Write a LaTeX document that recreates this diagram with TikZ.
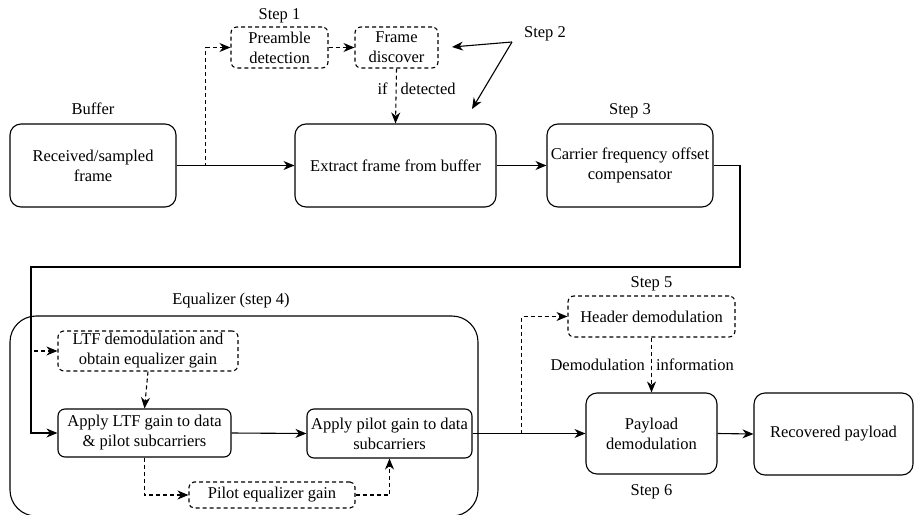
\documentclass[tikz,border=0pt]{standalone}
\usepackage{fontspec}
\setmainfont{Liberation Serif}
\newfontfamily\diagfont{Liberation Serif}
\usetikzlibrary{positioning,arrows.meta}

\begin{document}
\begin{tikzpicture}[x=1pt,y=-1pt,line width=1.1pt,
    font=\diagfont\fontsize{16.5}{20}\selectfont,
    blk/.style={draw,rounded corners=11pt,align=center,inner sep=0pt},
    dblk/.style={blk,rounded corners=6pt,dash pattern=on 4pt off 3pt},
    lbl/.style={inner sep=0pt},
    arr/.style={-{Stealth[length=11pt,width=9pt,inset=3.5pt]}},
    darr/.style={arr,dash pattern=on 4pt off 3pt}]
    \useasboundingbox (0,0) rectangle (915,514);

    % equalizer frame
    \node[draw,rounded corners=26pt,minimum width=468,minimum height=200] (eqz) at (244,416) {};
    \node[lbl] (eqzlbl) at (231,301) {Equalizer (step 4)};

    \node[blk,minimum width=166,minimum height=83] (buf) at (93,165.5) {Received/sampled\\frame};
    \node[blk,minimum width=201,minimum height=83] (ext) at (395.5,165.5) {Extract frame from buffer};
    \node[blk,minimum width=166,minimum height=83] (cfo) at (630,165.5) {Carrier frequency offset\\compensator};
    \node[dblk,minimum width=97,minimum height=41] (pre) at (279.5,47.5) {Preamble\\detection};
    \node[dblk,minimum width=83,minimum height=41] (frm) at (396.5,47.5) {Frame\\discover};

    \node[dblk,minimum width=180,minimum height=40] (ltf) at (148,351) {LTF demodulation and\\obtain equalizer gain};
    \node[blk,rounded corners=7pt,minimum width=173,minimum height=48] (alt) at (144.5,433) {Apply LTF gain to data\\\& pilot subcarriers};
    \node[blk,rounded corners=7pt,minimum width=165,minimum height=49] (apg) at (389.5,433.5) {Apply pilot gain to data\\subcarriers};
    \node[dblk,rounded corners=5pt,minimum width=166,minimum height=26] (peq) at (272,495) {Pilot equalizer gain};

    \node[dblk,minimum width=167,minimum height=41] (hdr) at (651.5,316.5) {Header demodulation};
    \node[blk,minimum width=131,minimum height=81] (pay) at (651.5,433.5) {Payload\\demodulation};
    \node[blk,minimum width=159,minimum height=82] (rec) at (833.5,434) {Recovered payload};

    % step labels
    \node[lbl,above=8.4pt of buf] (buflbl) {Buffer};
    \node[lbl,above=2.8pt of pre] (s1lbl) {Step 1};
    \node[lbl,above=4.8pt of cfo] (s3lbl) {Step 3};
    \node[lbl,above=3.8pt of hdr] (s5lbl) {Step 5};
    \node[lbl,below=9.4pt of pay] (s6lbl) {Step 6};
    \node[lbl] (s2lbl) at (545,34) {Step 2};
    \coordinate (s2) at (512,42);
    \coordinate (s2a) at (452,47);
    \coordinate (s2b) at (472,109);
    \draw[arr] (s2) -- (s2a);
    \draw[arr] (s2) -- (s2b);

    % top row
    \draw[arr] (buf.east) -- (ext.west);
    \draw[darr] (buf.east) -- ++(29,0) |- (pre.west);
    \draw[darr] (pre.east) -- (frm.west);
    \draw[darr] (frm.south) -- (ext.north)
        node[lbl,pos=0.375,left=8pt] (iflbl) {if}
        node[lbl,pos=0.375,right=4pt] (detlbl) {detected};
    \draw[arr] (ext.east) -- (cfo.west);

    % back to the equalizer
    \coordinate (rt) at (740,267);
    \coordinate (lt) at (31,267);
    \draw[darr] (cfo.east) -| (rt) -- (lt) |- (ltf.west);
    \draw[arr] (cfo.east) -| (rt) -- (lt) |- (alt.west);

    \draw[darr] (ltf.south) -- (alt.north);
    \draw[arr] (alt.east) -- (apg.west);
    \draw[darr] (alt.south) |- (peq.west);
    \draw[darr] (peq.east) -| (apg.south);

    % demodulation
    \draw[arr] (apg.east) -- (pay.west);
    \draw[darr] (apg.east) -- ++(49,0) |- (hdr.west);
    \draw[darr] (hdr.south) -- (pay.north)
        node[lbl,pos=0.5,left=6pt] (dmlbl) {Demodulation}
        node[lbl,pos=0.5,right=4pt] (inflbl) {information};
    \draw[arr] (pay.east) -- (rec.west);

\end{tikzpicture}
\end{document}
